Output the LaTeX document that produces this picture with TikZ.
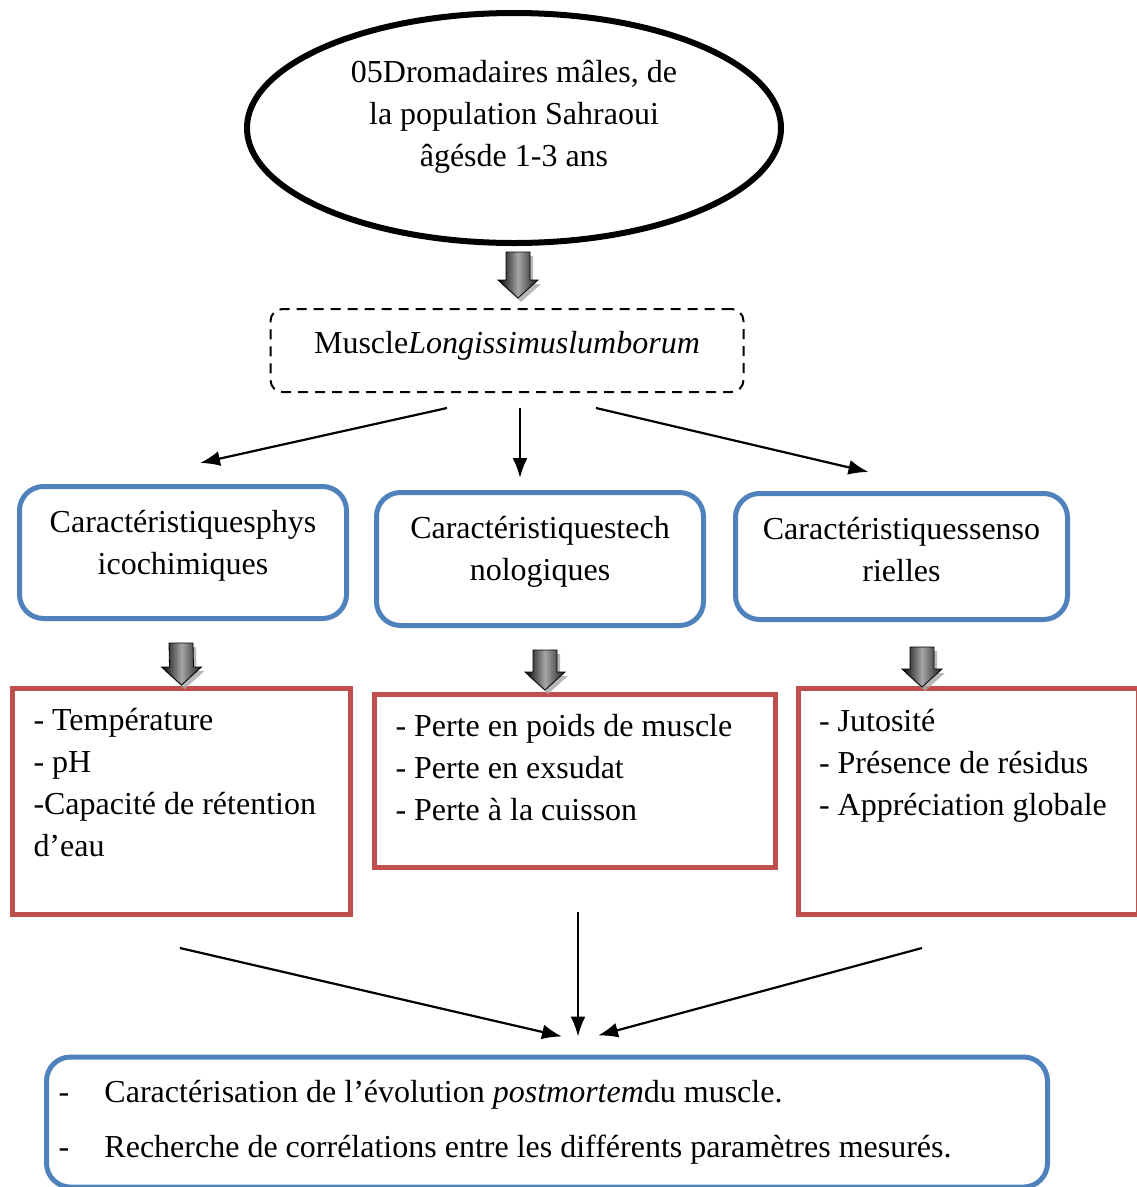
\documentclass[tikz,border=0pt]{standalone}
\usepackage{fontspec}
\setmainfont{Liberation Serif}
\usetikzlibrary{shapes.geometric, calc, arrows.meta, shadows}
\definecolor{boxblue}{HTML}{4F81BD}
\definecolor{boxred}{HTML}{C0504D}
\tikzset{
	herdshape/.style={ellipse, draw, line width=6pt, minimum width=534pt, minimum height=230pt, align=center, text depth=30pt},
	musclebox/.style={draw, dash pattern=on 10pt off 7pt, line width=2pt, rounded corners=12pt, minimum width=473pt, minimum height=83pt, text height=22pt, text depth=16pt},
	charbox/.style={draw=boxblue, line width=5pt, rounded corners=24pt, align=center, text width=300pt},
	listbox/.style={draw=boxred, line width=5pt, align=flush left, inner xsep=21pt},
	conclbox/.style={draw=boxblue, line width=5pt, rounded corners=24pt, align=flush left, inner xsep=12pt, inner ysep=23pt, minimum width=1001pt, text width=977pt},
	link/.style={-{Latex[length=20pt,width=15pt]}, line width=2.2pt},
	blocklink/.style={
		draw=black, line width=0.8pt, left color=black, right color=black!90, middle color=gray!70,
		drop shadow={shadow xshift=3pt, shadow yshift=-4pt, fill=gray!70, opacity=0.8},
		to path={
			let \p1=(\tikztostart), \p2=(\tikztotarget) in
			([xshift=-12pt]\p1) -- ([xshift=12pt]\p1) -- ([xshift=12pt]\x2,\y2+18pt) -- ([xshift=20pt]\x2,\y2+18pt)
			-- (\p2) -- ([xshift=-20pt]\x2,\y2+18pt) -- ([xshift=-12pt]\x2,\y2+18pt) -- cycle
		}
	}
}
\begin{document}
\begin{tikzpicture}[x=1pt, y=-1pt, every node/.style={font=\fontsize{32}{42}\selectfont}]
	\useasboundingbox (0,0) rectangle (1137,1187);
	\node[herdshape] (herd) at (514,128) {05Dromadaires mâles, de\\la population Sahraoui\\âgésde 1-3 ans};
	\node[musclebox] (muscle) at (507,350.5) {Muscle\textit{Longissimuslumborum}};

	\node[charbox, minimum width=327pt, minimum height=132pt, text depth=63pt] (phys) at (183,552.5) {Caractéristiquesphys\\icochimiques};
	\node[charbox, minimum width=327pt, minimum height=133pt, text depth=63pt] (tech) at (540,559) {Caractéristiquestech\\nologiques};
	\node[charbox, minimum width=332pt, minimum height=126pt, text depth=57pt] (senso) at (901.5,556.5) {Caractéristiquessenso\\rielles};

	\node[listbox, minimum width=338pt, minimum height=226pt, text width=296pt, text depth=165pt] (physlist) at (181.5,801.5)
		{- Température\\- pH\\-Capacité de rétention\\d’eau};
	\node[listbox, minimum width=401pt, minimum height=173pt, text width=359pt, text depth=112pt] (techlist) at (575,781)
		{- Perte en poids de muscle\\- Perte en exsudat\\- Perte à la cuisson};
	\node[listbox, minimum width=340pt, minimum height=226pt, text width=298pt, text depth=163pt] (sensolist) at (968,801.5)
		{- Jutosité\\- Présence de résidus\\- Appréciation globale};

	\node[conclbox, anchor=north] (concl) at (547,1054.5)
		{\makebox[46pt][l]{-}Caractérisation de l’évolution \textit{postmortem}du muscle.\\[13pt]
		\makebox[46pt][l]{-}Recherche de corrélations entre les différents paramètres mesurés.};

	\path[blocklink] ([shift={(4,6)}]herd.south) to ([shift={(11,-10)}]muscle.north);
	\path[blocklink] ([shift={(-2,22)}]phys.south) to ([shift={(0,-1)}]physlist.north);
	\path[blocklink] ([shift={(5,22)}]tech.south) to ([shift={(-30,-2)}]techlist.north);
	\path[blocklink] ([shift={(20.5,25)}]senso.south) to ([shift={(-46,1)}]sensolist.north);

	\draw[link] ([shift={(-60,15)}]muscle.south) -- ([shift={(17,-21)}]phys.north);
	\draw[link] ([shift={(13,15)}]muscle.south) -- ([shift={(-20,-12)}]tech.north);
	\draw[link] ([shift={(89,15)}]muscle.south) -- ([shift={(-33,-19)}]senso.north);
	\draw[link] ([shift={(-1.5,31)}]physlist.south) -- ([shift={(15,-18)}]concl.north);
	\draw[link] ([shift={(3,42)}]techlist.south) -- ([shift={(31,-18)}]concl.north);
	\draw[link] ([shift={(-46,31)}]sensolist.south) -- ([shift={(51,-19)}]concl.north);
\end{tikzpicture}
\end{document}
